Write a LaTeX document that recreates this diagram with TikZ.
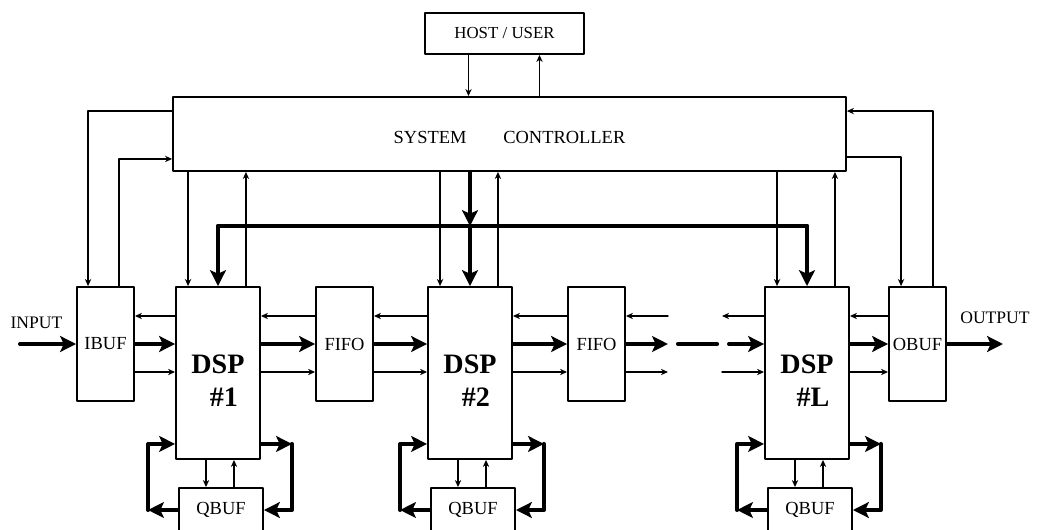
\documentclass[tikz,border=0pt]{standalone}
\usepackage{fontspec}
\setmainfont{Liberation Serif}
\usetikzlibrary{arrows.meta,calc}

\begin{document}
\begin{tikzpicture}[x=0.02cm,y=-0.02cm, line join=round, line cap=round,
	box/.style={draw,line width=1.1pt,inner sep=0pt,minimum width=1.14cm,minimum height=2.28cm,font=\fontsize{10.5}{12}\selectfont},
	dspbox/.style={draw,line width=1.1pt,inner sep=0pt,minimum width=1.68cm,minimum height=3.44cm},
	qbox/.style={draw,line width=1.1pt,inner sep=0pt,minimum width=1.68cm,minimum height=0.88cm,font=\fontsize{10.5}{12}\selectfont},
	dsplbl/.style={align=center,font=\fontsize{16}{18.7}\selectfont\bfseries},
	iolbl/.style={inner sep=0pt,font=\fontsize{10}{12}\selectfont},
	thinarr/.style={line width=0.85pt,-{Stealth[length=4pt,width=3.6pt]}},
	thickarr/.style={line width=2.3pt,-{Stealth[length=9pt,width=9pt,inset=2pt]}},
	thickline/.style={line width=2.3pt}]
	\useasboundingbox (0,0) rectangle (1037,530);
	% blocks
	\node[draw,line width=1.1pt,inner sep=0pt,minimum width=3.18cm,minimum height=0.82cm,font=\fontsize{9.6}{11}\selectfont] (host) at (504.5,33.5) {HOST / USER};
	\node[draw,line width=1.1pt,inner sep=0pt,minimum width=13.46cm,minimum height=1.48cm,text height=0.37cm,font=\fontsize{10.5}{12}\selectfont] (ctrl) at (509.5,134) {SYSTEM\hspace{21pt}CONTROLLER};
	\node[box] (ibuf) at (105.5,344) {IBUF};
	\node[dspbox] (dspA) at (218,373) {};
	\node[box] (fifoA) at (344.5,344) {FIFO};
	\node[dspbox] (dspB) at (470,373) {};
	\node[box] (fifoB) at (596.5,344) {FIFO};
	\node[dspbox] (dspL) at (807,373) {};
	\node[box] (obuf) at (917.5,344) {OBUF};
	\node[qbox] (qbufA) at (221,510) {QBUF};
	\node[qbox] (qbufB) at (473,510) {QBUF};
	\node[qbox] (qbufL) at (810,510) {QBUF};
	\node[dsplbl] at ([yshift=-0.16cm]dspA.center) {DSP\\\hspace*{6.8pt}\#1};
	\node[dsplbl] at ([yshift=-0.16cm]dspB.center) {DSP\\\hspace*{6.8pt}\#2};
	\node[dsplbl] at ([yshift=-0.16cm]dspL.center) {DSP\\\hspace*{6.8pt}\#L};
	\node[iolbl] (inlbl) at (36.5,323) {INPUT};
	\node[iolbl] (outlbl) at (995,318) {OUTPUT};
	% host <-> controller
	\coordinate (hd) at ($(host.south)+(-36,0)$);
	\coordinate (hu) at ($(host.south)+(35,0)$);
	\draw[thinarr] (hd) -- (hd |- ctrl.north);
	\draw[thinarr] (hu |- ctrl.north) -- (hu);
	% controller <-> ibuf, obuf
	\draw[thinarr] ($(ctrl.north west)+(0,15)$) -| ($(ibuf.north west)+(12,0)$);
	\draw[thinarr] ($(ibuf.north east)+(-16,0)$) |- ($(ctrl.south west)+(0,-13)$);
	\draw[thinarr] ($(ctrl.south east)+(0,-15)$) -| ($(obuf.north west)+(13,0)$);
	\draw[thinarr] ($(obuf.north east)+(-14,0)$) |- ($(ctrl.north east)+(0,15)$);
	% controller <-> dsp, dsp <-> qbuf
	\foreach \n in {A,B,L}{
		\coordinate (dn\n) at ($(dsp\n.north west)+(13,0)$);
		\coordinate (up\n) at ($(dsp\n.north east)+(-15,0)$);
		\draw[thinarr] (ctrl.south -| dn\n) -- (dn\n);
		\draw[thinarr] (up\n) -- (ctrl.south -| up\n);
		\coordinate (qd\n) at ($(dsp\n.south)+(-12,0)$);
		\coordinate (qu\n) at ($(dsp\n.south)+(16,0)$);
		\draw[thinarr] (qd\n) -- (qd\n |- qbuf\n.north);
		\draw[thinarr] (qu\n |- qbuf\n.north) -- (qu\n);
		\coordinate (lp\n) at ($(dsp\n.south west)+(0,-16)$);
		\coordinate (rp\n) at ($(dsp\n.south east)+(0,-16)$);
		\draw[thickarr] (qbuf\n.west) -- ++(-30,0) coordinate (bl\n);
		\draw[thickarr] (bl\n) |- (lp\n);
		\draw[thickarr] (rp\n) -- ++(31,0) coordinate (br\n);
		\draw[thickarr] (br\n) |- (qbuf\n.east);
	}
	% common bus
	\coordinate (busA) at ($(dspA.north)+(0,-60)$);
	\coordinate (busL) at ($(dspL.north)+(0,-60)$);
	\draw[thickline] (busA) -- (busL);
	\draw[thickarr] (busA) -- (dspA.north);
	\draw[thickarr] (busL) -- (dspL.north);
	\draw[thickarr] (ctrl.south -| dspB.north) -- (busA -| dspB.north);
	\draw[thickarr] (busA -| dspB.north) -- (dspB.north);
	% data rows
	\coordinate (rowT) at ($(ibuf.center)+(0,-28)$);
	\coordinate (rowM) at (ibuf.center);
	\coordinate (rowB) at ($(ibuf.center)+(0,28)$);
	\foreach \l/\r in {ibuf/dspA,dspA/fifoA,fifoA/dspB,dspB/fifoB,dspL/obuf}{
		\draw[thinarr] (\r.west |- rowT) -- (\l.east |- rowT);
		\draw[thickarr] (\l.east |- rowM) -- (\r.west |- rowM);
		\draw[thinarr] (\l.east |- rowB) -- (\r.west |- rowB);
	}
	% gap fifo #2 .. dsp #L
	\coordinate (fo) at ($(fifoB.east)+(42,0)$);
	\coordinate (dlw) at (dspL.west |- rowM);
	\coordinate (di) at ($(dlw)+(-42,0)$);
	\draw[thinarr] (fo |- rowT) -- (fifoB.east |- rowT);
	\draw[thickarr] (fifoB.east) -- (fo);
	\draw[thinarr] (fifoB.east |- rowB) -- (fo |- rowB);
	\draw[thickline] ($(fo)+(10,0)$) -- ($(di)+(-5,0)$);
	\draw[thinarr] (dlw |- rowT) -- (di |- rowT);
	\draw[thickarr] ($(di)+(7,0)$) -- (dlw);
	\draw[thinarr] (di |- rowB) -- (dlw |- rowB);
	% input, output
	\coordinate (inp) at (20,344);
	\draw[thickarr] (inp) -- (ibuf.west);
	\coordinate (outp) at (1003,344);
	\draw[thickarr] (obuf.east) -- (outp);
\end{tikzpicture}
\end{document}
